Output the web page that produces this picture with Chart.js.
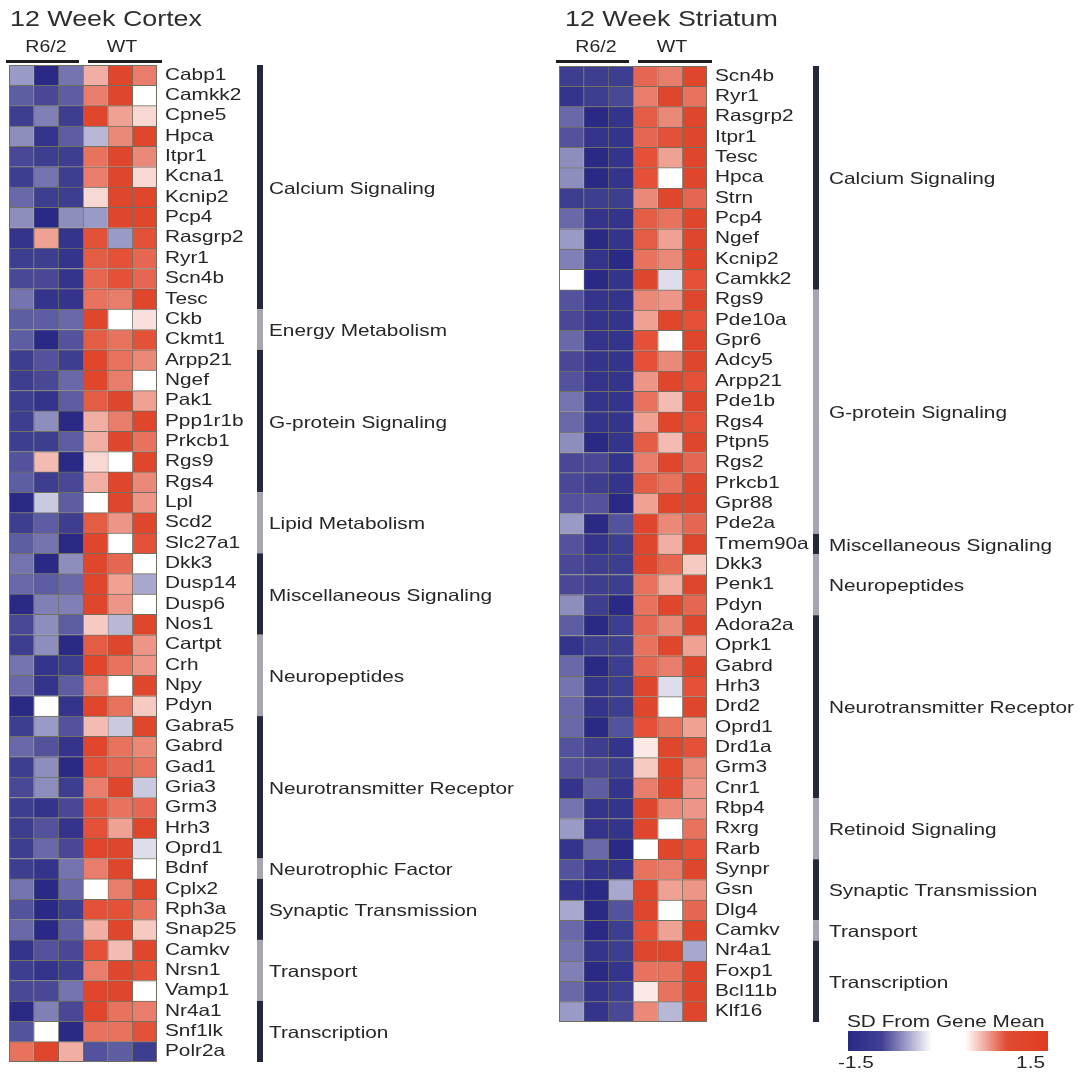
<!DOCTYPE html>
<html>
<head>
<meta charset="utf-8">
<script src="https://cdn.jsdelivr.net/npm/chart.js@4.4.1/dist/chart.umd.min.js"></script>
<style>
  html, body { margin: 0; padding: 0; background: #fff; }
  #wrap { position: relative; width: 1082px; height: 1074px; overflow: hidden; }
  canvas { position: absolute; top: 0; }
  #cortex { left: 0; }
  #striatum { left: 541px; }
</style>
</head>
<body>
<div id="wrap">
  <canvas id="cortex" width="541" height="1074"></canvas>
  <canvas id="striatum" width="541" height="1074"></canvas>
</div>
<script>
// Sample columns: three R6/2 animals followed by three wild-type animals
const sampleGroups = ['R6/2', 'WT'];
const samplesPerGroup = 3;

// ---- 12 week cortex ----
const cortexGenes = ['Cabp1','Camkk2','Cpne5','Hpca','Itpr1','Kcna1','Kcnip2','Pcp4','Rasgrp2','Ryr1','Scn4b','Tesc',
  'Ckb','Ckmt1',
  'Arpp21','Ngef','Pak1','Ppp1r1b','Prkcb1','Rgs9','Rgs4',
  'Lpl','Scd2','Slc27a1',
  'Dkk3','Dusp14','Dusp6','Nos1',
  'Cartpt','Crh','Npy','Pdyn',
  'Gabra5','Gabrd','Gad1','Gria3','Grm3','Hrh3','Oprd1',
  'Bdnf',
  'Cplx2','Rph3a','Snap25',
  'Camkv','Nrsn1','Vamp1',
  'Nr4a1','Snf1lk','Polr2a'];

// SD from gene mean, one row per gene: R6/2 x3, WT x3
const cortexValues = [
  [-0.5,-1.5,-0.8, 0.5, 1.4, 0.9],
  [-1.0,-1.2,-1.0, 0.9, 1.4, 0.0],
  [-1.3,-0.7,-1.3, 1.4, 0.6, 0.2],
  [-0.6,-1.4,-1.0,-0.3, 0.8, 1.4],
  [-1.2,-1.3,-1.3, 1.0, 1.4, 0.8],
  [-1.3,-0.8,-1.3, 0.9, 1.4, 0.2],
  [-0.9,-1.3,-1.3, 0.2, 1.4, 1.4],
  [-0.6,-1.5,-0.6,-0.5, 1.4, 1.4],
  [-1.4, 0.6,-1.4, 1.3,-0.5, 1.3],
  [-1.3,-1.3,-1.4, 1.2, 1.3, 1.1],
  [-1.2,-1.2,-1.4, 1.1, 1.3, 1.1],
  [-0.8,-1.4,-1.4, 1.0, 0.9, 1.4],
  [-1.0,-1.0,-0.9, 1.4, 0.0, 0.15],
  [-1.0,-1.5,-1.1, 1.2, 1.0, 1.3],
  [-1.3,-1.1,-1.3, 1.4, 1.0, 0.8],
  [-1.3,-1.2,-0.9, 1.4, 0.9, 0.0],
  [-1.3,-1.4,-1.0, 1.2, 1.4, 0.6],
  [-1.3,-0.6,-1.5, 0.5, 0.9, 1.4],
  [-1.3,-1.3,-1.0, 0.5, 1.4, 1.0],
  [-1.1, 0.4,-1.5, 0.2, 0.0, 1.4],
  [-1.0,-1.3,-1.2, 0.5, 1.4, 0.8],
  [-1.5,-0.2,-1.0, 0.0, 1.4, 0.7],
  [-1.3,-1.0,-1.3, 1.2, 0.7, 1.4],
  [-1.0,-0.8,-1.5, 1.4, 0.0, 1.3],
  [-0.8,-1.5,-0.6, 1.4, 1.1, 0.0],
  [-0.9,-1.0,-0.9, 1.4, 0.6,-0.4],
  [-1.5,-0.7,-0.7, 1.4, 0.7, 0.0],
  [-1.2,-0.6,-1.0, 0.3,-0.3, 1.4],
  [-1.3,-0.6,-1.5, 1.2, 1.4, 0.7],
  [-0.8,-1.4,-1.3, 1.4, 1.0, 0.7],
  [-0.9,-1.4,-1.0, 0.9, 0.0, 1.4],
  [-1.5, 0.0,-1.4, 1.4, 1.0, 0.3],
  [-1.3,-0.5,-1.1, 0.4,-0.2, 1.4],
  [-0.9,-1.1,-1.4, 1.4, 1.0, 0.8],
  [-1.3,-0.6,-1.5, 1.3, 1.1, 1.0],
  [-1.2,-0.6,-1.3, 0.9, 1.4,-0.2],
  [-1.3,-1.4,-1.2, 1.3, 1.0, 1.1],
  [-1.3,-1.1,-1.4, 1.3, 0.6, 1.4],
  [-1.3,-0.9,-1.2, 1.4, 1.4,-0.1],
  [-1.3,-1.4,-0.8, 0.9, 1.4, 0.0],
  [-0.8,-1.5,-0.9, 0.0, 0.9, 1.4],
  [-1.1,-1.5,-1.3, 1.3, 1.3, 1.0],
  [-0.9,-1.5,-1.0, 0.5, 1.4, 0.3],
  [-1.4,-1.1,-1.2, 1.3, 0.4, 1.4],
  [-1.3,-1.4,-1.3, 0.9, 1.4, 1.3],
  [-1.2,-1.2,-0.8, 1.4, 1.4, 0.0],
  [-1.5,-0.7,-1.2, 1.4, 1.0, 0.9],
  [-1.1, 0.0,-1.5, 1.0, 1.0, 1.3],
  [ 1.0, 1.4, 0.5,-1.1,-1.0,-1.3]
];

const cortexGroupNames = ['Calcium Signaling','Energy Metabolism','G-protein Signaling','Lipid Metabolism',
  'Miscellaneous Signaling','Neuropeptides','Neurotransmitter Receptor','Neurotrophic Factor',
  'Synaptic Transmission','Transport','Transcription'];
const cortexGroupSizes = [12, 2, 7, 3, 4, 4, 7, 1, 3, 3, 3];

// ---- 12 week striatum ----
const striatumGenes = ['Scn4b','Ryr1','Rasgrp2','Itpr1','Tesc','Hpca','Strn','Pcp4','Ngef','Kcnip2','Camkk2',
  'Rgs9','Pde10a','Gpr6','Adcy5','Arpp21','Pde1b','Rgs4','Ptpn5','Rgs2','Prkcb1','Gpr88','Pde2a',
  'Tmem90a',
  'Dkk3','Penk1','Pdyn',
  'Adora2a','Oprk1','Gabrd','Hrh3','Drd2','Oprd1','Drd1a','Grm3','Cnr1',
  'Rbp4','Rxrg','Rarb',
  'Synpr','Gsn','Dlg4',
  'Camkv',
  'Nr4a1','Foxp1','Bcl11b','Klf16'];

const striatumValues = [
  [-1.3,-1.3,-1.3, 1.1, 0.9, 1.4],
  [-1.4,-1.3,-1.2, 0.9, 1.4, 1.0],
  [-0.9,-1.5,-1.4, 1.2, 0.8, 1.4],
  [-1.1,-1.4,-1.4, 1.1, 1.3, 1.4],
  [-0.6,-1.5,-1.4, 1.3, 0.6, 1.4],
  [-0.6,-1.5,-1.4, 1.3, 0.0, 1.4],
  [-1.3,-1.3,-1.3, 0.8, 1.4, 1.1],
  [-0.9,-1.4,-1.4, 1.2, 1.0, 1.4],
  [-0.5,-1.5,-1.4, 1.2, 0.6, 1.4],
  [-0.7,-1.4,-1.5, 1.0, 0.8, 1.4],
  [ 0.0,-1.5,-1.4, 1.4,-0.1, 1.3],
  [-1.1,-1.4,-1.4, 0.8, 0.7, 1.4],
  [-1.2,-1.4,-1.4, 0.6, 1.4, 1.3],
  [-0.9,-1.4,-1.4, 1.3, 0.0, 1.4],
  [-1.2,-1.4,-1.4, 1.3, 0.8, 1.4],
  [-1.1,-1.4,-1.4, 0.7, 1.4, 1.3],
  [-0.8,-1.4,-1.4, 1.0, 0.4, 1.4],
  [-0.9,-1.4,-1.4, 0.6, 1.4, 1.3],
  [-0.6,-1.5,-1.4, 1.2, 0.4, 1.4],
  [-1.2,-1.2,-1.4, 0.9, 1.4, 1.1],
  [-1.2,-1.3,-1.4, 1.2, 1.0, 1.4],
  [-1.1,-1.1,-1.5, 0.6, 1.4, 1.4],
  [-0.5,-1.5,-1.1, 1.4, 0.8, 1.1],
  [-1.1,-1.4,-1.3, 1.4, 0.5, 1.4],
  [-1.2,-1.3,-1.3, 1.4, 1.1, 0.3],
  [-1.2,-1.3,-1.3, 1.0, 0.5, 1.4],
  [-0.6,-1.3,-1.5, 1.0, 1.4, 1.1],
  [-1.0,-1.5,-1.3, 1.1, 0.8, 1.4],
  [-1.4,-1.3,-1.3, 1.0, 1.4, 0.6],
  [-0.9,-1.5,-1.3, 1.1, 0.9, 1.4],
  [-0.8,-1.4,-1.3, 1.4,-0.1, 1.3],
  [-0.9,-1.4,-1.3, 1.4, 0.0, 1.4],
  [-0.9,-1.5,-1.1, 1.3, 1.0, 0.6],
  [-1.1,-1.3,-1.4, 0.1, 1.4, 1.3],
  [-1.1,-1.2,-1.3, 0.3, 1.4, 0.8],
  [-1.4,-1.0,-1.4, 0.9, 1.4, 0.7],
  [-0.8,-1.4,-1.4, 1.4, 0.8, 0.7],
  [-0.5,-1.4,-1.4, 1.4, 0.0, 1.0],
  [-1.4,-0.9,-1.5, 0.0, 1.4, 1.3],
  [-1.1,-1.4,-1.4, 1.0, 0.9, 1.4],
  [-1.4,-1.5,-0.4, 1.4, 0.6, 0.7],
  [-0.4,-1.5,-1.1, 1.4, 0.0, 1.1],
  [-0.9,-1.5,-1.3, 1.3, 0.6, 1.4],
  [-0.8,-1.4,-1.3, 1.4, 1.4,-0.4],
  [-0.7,-1.5,-1.4, 1.0, 1.0, 1.4],
  [-0.9,-1.4,-1.3, 0.1, 1.0, 1.4],
  [-0.5,-1.4,-1.2, 0.8,-0.3, 1.4]
];

const striatumGroupNames = ['Calcium Signaling','G-protein Signaling','Miscellaneous Signaling','Neuropeptides',
  'Neurotransmitter Receptor','Retinoid Signaling','Synaptic Transmission','Transport','Transcription'];
const striatumGroupSizes = [11, 12, 1, 3, 9, 3, 3, 1, 4];

// Colour scale limits and legend tick labels
const scaleMin = -1.5, scaleMax = 1.5;
const legendTitle = 'SD From Gene Mean';
const legendTicks = ['-1.5', '1.5'];

// ---- drawing helpers ----
const LOW = [42, 42, 134];
const HIGH = [222, 60, 32];
const GRID = '#6f6f62';
const TEXT = '#262626';
const FONT = '"Liberation Sans", Arial, Helvetica, sans-serif';

function mix(c, t) {
  return 'rgb(' + c.map(v => Math.round(255 + (v - 255) * t)).join(',') + ')';
}
function heatColor(v) {
  const lim = v < 0 ? -scaleMin : scaleMax;
  const g = v < 0 ? 0.68 : 0.8;
  const t = Math.pow(Math.min(1, Math.abs(v) / lim), g);
  return mix(v < 0 ? LOW : HIGH, t);
}

// text with the wide letterforms of the figure's type
function wideText(ctx, str, x, y, size, sx, align, baseline, color) {
  ctx.save();
  ctx.font = size + 'px ' + FONT;
  ctx.fillStyle = color || TEXT;
  ctx.textAlign = align || 'left';
  ctx.textBaseline = baseline || 'middle';
  ctx.translate(x, y);
  ctx.scale(sx, 1);
  ctx.fillText(str, 0, 0);
  ctx.restore();
}

// gene labels, header bars, functional group bars and titles
const annotations = {
  id: 'annotations',
  afterDraw(chart, args, o) {
    const { ctx, chartArea: a, scales: { x, y } } = chart;
    const genes = chart.data.labels;
    const band = y.getPixelForValue(1) - y.getPixelForValue(0);

    // outer frame of the grid
    ctx.save();
    ctx.strokeStyle = GRID;
    ctx.lineWidth = 1;
    ctx.strokeRect(a.left + 0.5, a.top + 0.5, a.width - 1, a.height - 1);
    ctx.restore();

    // panel title
    wideText(ctx, o.title, o.titleX, 26, 22, 1.22, 'left', 'alphabetic', '#2e2e2e');

    // sample group headers with rules
    sampleGroups.forEach((g, k) => {
      const x0 = x.getPixelForValue(k * samplesPerGroup);
      const x1 = x.getPixelForValue((k + 1) * samplesPerGroup);
      const l = k === 0 ? x0 - 3 : x0 + 5;
      const r = k === 0 ? x1 - 4 : x1 + 5;
      ctx.save();
      ctx.fillStyle = '#1e1e1e';
      ctx.fillRect(l, 60, r - l, 3);
      ctx.restore();
      wideText(ctx, g, (x0 + x1) / 2 + (k === 0 ? 0 : 2), 52, 17, 1.15, 'center', 'alphabetic');
    });

    // gene names
    genes.forEach((g, i) => {
      wideText(ctx, g, a.right + 8, y.getPixelForValue(i), 16.5, 1.26, 'left', 'middle');
    });

    // functional group bars and labels
    let start = 0;
    o.groupNames.forEach((name, k) => {
      const n = o.groupSizes[k];
      const top = y.getPixelForValue(start) - band / 2;
      const bot = y.getPixelForValue(start + n - 1) + band / 2;
      ctx.save();
      ctx.fillStyle = k % 2 === 0 ? '#25273a' : '#a6a6b0';
      ctx.fillRect(a.right + o.barOffset, top, 6, bot - top);
      ctx.restore();
      wideText(ctx, name, a.right + o.barOffset + o.labelGap, (top + bot) / 2 + 2, 16.5, 1.26, 'left', 'middle');
      start += n;
    });

    // colour key
    if (o.legend) {
      const L = o.legend;
      wideText(ctx, legendTitle, L.x + 9, L.y, 16.5, 1.26, 'left', 'alphabetic');
      const by = L.y + 4, bh = 20;
      const gb = ctx.createLinearGradient(L.x + 10, 0, L.x + 94, 0);
      gb.addColorStop(0, heatColor(scaleMin));
      gb.addColorStop(0.4, heatColor(scaleMin * 0.85));
      gb.addColorStop(1, '#ffffff');
      ctx.fillStyle = gb;
      ctx.fillRect(L.x + 10, by, 84, bh);
      const gr = ctx.createLinearGradient(L.x + 127, 0, L.x + 210, 0);
      gr.addColorStop(0, '#ffffff');
      gr.addColorStop(0.5, heatColor(scaleMax * 0.9));
      gr.addColorStop(1, heatColor(scaleMax));
      ctx.fillStyle = gr;
      ctx.fillRect(L.x + 127, by, 83, bh);
      wideText(ctx, legendTicks[0], L.x, L.y + 41, 16.5, 1.26, 'left', 'alphabetic');
      wideText(ctx, legendTicks[1], L.x + 207, L.y + 41, 16.5, 1.26, 'right', 'alphabetic');
    }
  }
};

function buildPanel(id, genes, values, opts, padding) {
  const nCols = sampleGroups.length * samplesPerGroup;
  const datasets = [];
  for (let c = 0; c < nCols; c++) {
    datasets.push({
      data: genes.map(() => [c, c + 1]),
      backgroundColor: values.map(r => heatColor(r[c])),
      borderColor: GRID,
      borderWidth: { top: 1, left: 1, right: 0, bottom: 0 },
      borderSkipped: false,
      barPercentage: 1,
      categoryPercentage: 1,
      grouped: false
    });
  }
  return new Chart(document.getElementById(id), {
    type: 'bar',
    data: { labels: genes, datasets },
    options: {
      indexAxis: 'y',
      responsive: false,
      animation: false,
      events: [],
      layout: { padding },
      scales: {
        x: { type: 'linear', min: 0, max: nCols, display: false },
        y: { display: false }
      },
      plugins: {
        legend: { display: false },
        tooltip: { enabled: false },
        annotations: opts
      }
    },
    plugins: [annotations]
  });
}

buildPanel('cortex', cortexGenes, cortexValues, {
  title: '12 Week Cortex', titleX: 10,
  groupNames: cortexGroupNames, groupSizes: cortexGroupSizes,
  barOffset: 100, labelGap: 12
}, { left: 9, right: 384, top: 65, bottom: 12 });

buildPanel('striatum', striatumGenes, striatumValues, {
  title: '12 Week Striatum', titleX: 24,
  groupNames: striatumGroupNames, groupSizes: striatumGroupSizes,
  barOffset: 106, labelGap: 16,
  legend: { x: 297, y: 1027 }
}, { left: 18, right: 375, top: 66, bottom: 52 });
</script>
</body>
</html>
